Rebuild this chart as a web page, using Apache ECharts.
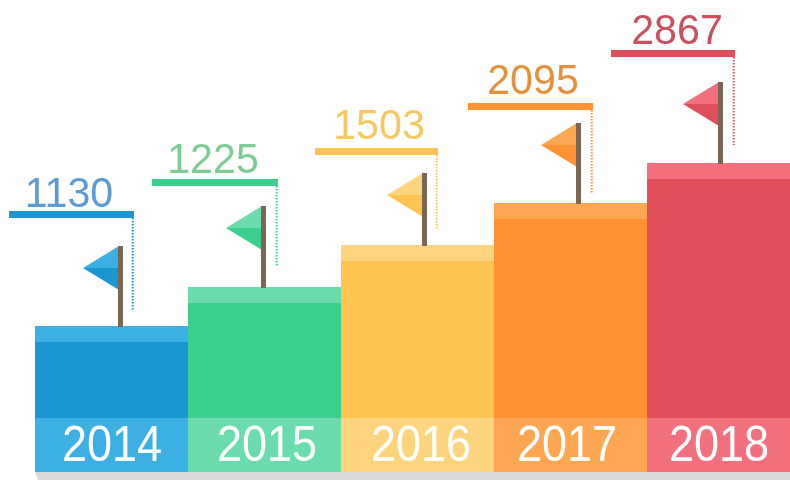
<!DOCTYPE html>
<html>
<head>
<meta charset="utf-8">
<style>
    html, body { margin: 0; padding: 0; background: #fff; }
    #chart { width: 790px; height: 480px; }
</style>
<script src="https://cdn.jsdelivr.net/npm/echarts@6/dist/echarts.min.js"></script>
</head>
<body>
<div id="chart"></div>
<script>
// Data
const years = ['2014', '2015', '2016', '2017', '2018'];
const values = [1130, 1225, 1503, 2095, 2867];
// the steps are decorative, their height does not follow the value
const stepHeights = [146, 185, 227, 269, 309];

// Colors
const darkColors = ['#1a96d2', '#3bcf8e', '#ffc550', '#ff9232', '#e04e59'];
const lightColors = ['#3db0e3', '#6adbac', '#ffd47e', '#ffa652', '#f2707d'];
const textColors = ['#5a9bd1', '#7ccd94', '#f5c860', '#e5913b', '#c9505f'];
const poleColor = '#7a6652';

// Flag, shelf and label placement, relative to the step's top left corner
const yearX = [77, 79, 80, 73, 72];
const poleX = [83, 73, 81, 82, 71];
const poleTop = [80, 81, 72, 80, 81];
const shelfX = [-26, -36, -26, -26, -36];
const shelfW = [125, 126, 123, 125, 124];
const shelfUp = [115, 108, 97, 100, 113];
const dotBottom = [16, 21, 15, 9, 18];
const valueX = [60, 61, 64, 65, 66];
const valueGap = [3, 5, 8, 8, 5];

const chart = echarts.init(document.getElementById('chart'));

const renderStep = function (params, api) {
    const i = api.value(0);
    const top = api.coord([i, api.value(1)]);
    const bottom = api.coord([i, 0]);
    const w = api.size([1, 0])[0];
    const x = top[0] - w / 2;
    const y = top[1];
    const px = x + poleX[i];
    const fy = y - poleTop[i];
    const sx = x + shelfX[i];
    const sy = y - shelfUp[i];

    return {
        type: 'group',
        children: [
            { type: 'rect', shape: { x: x, y: y, width: w, height: bottom[1] - y }, style: { fill: darkColors[i] } },
            { type: 'rect', shape: { x: x, y: y, width: w, height: 16 }, style: { fill: lightColors[i] } },
            { type: 'rect', shape: { x: x, y: bottom[1] - 54, width: w, height: 54 }, style: { fill: lightColors[i] } },
            { type: 'text', x: x + yearX[i], y: bottom[1] - 25, scaleX: 0.9, style: {
                text: years[i], fill: '#fff', font: '50px "Liberation Sans", Arial, sans-serif',
                textAlign: 'center', textVerticalAlign: 'middle'
            } },
            // flag
            { type: 'polygon', shape: { points: [[px + 1, fy], [px - 35, fy + 22], [px + 1, fy + 22]] }, style: { fill: lightColors[i] } },
            { type: 'polygon', shape: { points: [[px + 1, fy + 44], [px - 35, fy + 22], [px + 1, fy + 22]] }, style: { fill: darkColors[i] } },
            { type: 'rect', shape: { x: px, y: fy, width: 5, height: poleTop[i] + 1 }, style: { fill: poleColor } },
            // shelf with the value on it
            { type: 'rect', shape: { x: sx, y: sy, width: shelfW[i], height: 7 }, style: { fill: darkColors[i] } },
            { type: 'line', shape: { x1: sx + shelfW[i] - 1.3, y1: sy + 7, x2: sx + shelfW[i] - 1.3, y2: y - dotBottom[i] }, style: {
                stroke: darkColors[i], lineWidth: 2, lineDash: [1.5, 1.5]
            } },
            { type: 'text', x: sx + valueX[i], y: sy + 8 - valueGap[i], scaleX: 0.98, style: {
                text: String(values[i]), fill: textColors[i], font: '42px "Liberation Sans", Arial, sans-serif',
                textAlign: 'center', textVerticalAlign: 'bottom'
            } }
        ]
    };
};

chart.setOption({
    animation: false,
    // right end of the last step runs off the page
    grid: { left: 35, top: 0, right: -10, bottom: 8, outerBoundsMode: 'none' },
    xAxis: { type: 'category', data: years, show: false },
    yAxis: { type: 'value', min: 0, max: 472, show: false },
    graphic: [{
        type: 'polygon',
        shape: { points: [[35, 472], [800, 472], [800, 480], [38, 480]] },
        style: { fill: '#d9d9d9' }
    }],
    series: [{
        type: 'custom',
        clip: false,
        data: stepHeights.map((h, i) => [i, h]),
        encode: { x: 0, y: 1 },
        renderItem: renderStep
    }]
});
</script>
</body>
</html>
